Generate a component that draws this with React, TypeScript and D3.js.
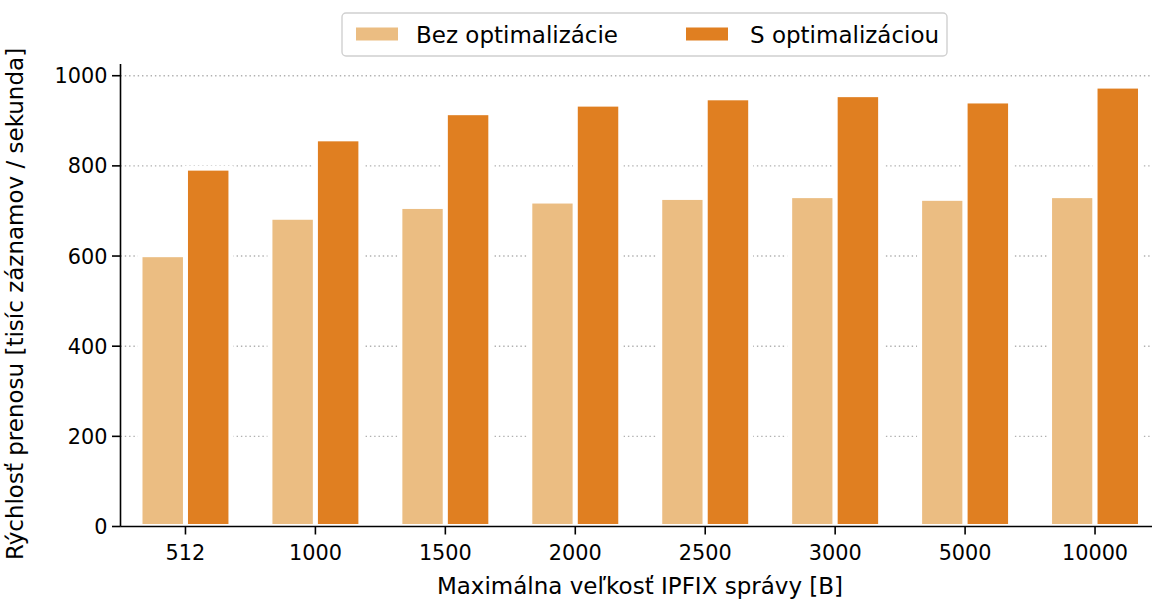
import React from "react";
import * as d3 from "d3";

const categories = ["512", "1000", "1500", "2000", "2500", "3000", "5000", "10000"];
const seriesNames = ["Bez optimalizácie", "S optimalizáciou"];
const withoutOpt = [603, 686, 710, 722, 730, 734, 728, 734];
const withOpt = [795, 860, 918, 937, 951, 958, 944, 977];
const yTicks = [0, 200, 400, 600, 800, 1000];
const colors = ["#ebbd82", "#e07f21"];

const W = 1152;
const H = 600;
const FONT = "DejaVu Sans, Verdana, sans-serif";

export default function App() {
  const left = 120.5;
  const right = 1160;
  const bottom = 526.5;
  const top = 64;
  const x = d3.scaleBand<string>().domain(categories).range([left, right]).padding(0);
  const y = d3.scaleLinear().domain([0, 1026]).range([bottom, top]);
  const step = x.step();
  const barW = step * 0.35;
  const series = [withoutOpt, withOpt];

  return (
    <svg width={W} height={H} style={{ display: "block", position: "absolute", left: 0, top: 0 }} fontFamily={FONT}>
      <rect x={0} y={0} width={W} height={H} fill="#fff" />
      {/* grid */}
      {yTicks.filter((t) => t > 0).map((t) => (
        <line key={t} x1={left} x2={right} y1={y(t)} y2={y(t)} stroke="#b0b0b0" strokeWidth={1.4} strokeDasharray="1.4,2.9" />
      ))}
      {/* bars */}
      {series.map((vals, si) =>
        vals.map((v, i) => {
          const cx = (x(categories[i]) as number) + step / 2;
          const bx = si === 0 ? cx - barW : cx;
          return (
            <rect key={si + "-" + i} x={bx} y={y(v)} width={barW} height={y(0) - y(v)} fill={colors[si]} stroke="#fff" strokeWidth={5} />
          );
        })
      )}
      {/* axes */}
      <line x1={left} x2={left} y1={top} y2={bottom} stroke="#000" strokeWidth={1.6} />
      <line x1={left} x2={right} y1={bottom} y2={bottom} stroke="#000" strokeWidth={1.6} />
      {yTicks.map((t) => (
        <g key={t}>
          <line x1={left - 8.5} x2={left} y1={y(t)} y2={y(t)} stroke="#000" strokeWidth={1.6} />
          <text x={107.5} y={y(t)} dy="0.36em" textAnchor="end" fontSize={20.8} fill="#000">{t}</text>
        </g>
      ))}
      {categories.map((c) => {
        const cx = (x(c) as number) + step / 2;
        return (
          <g key={c}>
            <line x1={cx} x2={cx} y1={bottom} y2={bottom + 8} stroke="#000" strokeWidth={1.6} />
            <text x={cx} y={560} textAnchor="middle" fontSize={20.8} fill="#000">{c}</text>
          </g>
        );
      })}
      <text x={640} y={594} textAnchor="middle" fontSize={23} fill="#000">Maximálna veľkosť IPFIX správy [B]</text>
      <text x={23} y={304} transform="rotate(-90, 23, 304)" textAnchor="middle" fontSize={23} fill="#000">Rýchlosť prenosu [tisíc záznamov / sekunda]</text>
      {/* legend */}
      <rect x={342} y={13} width={605} height={43} rx={4} fill="#fff" stroke="#d0d0d0" strokeWidth={1.4} />
      <rect x={356} y={27.5} width={42} height={13} fill={colors[0]} />
      <text x={416} y={42.5} fontSize={23} fill="#000">{seriesNames[0]}</text>
      <rect x={686} y={27.5} width={42} height={13} fill={colors[1]} />
      <text x={750} y={42.5} fontSize={23} fill="#000">{seriesNames[1]}</text>
    </svg>
  );
}
